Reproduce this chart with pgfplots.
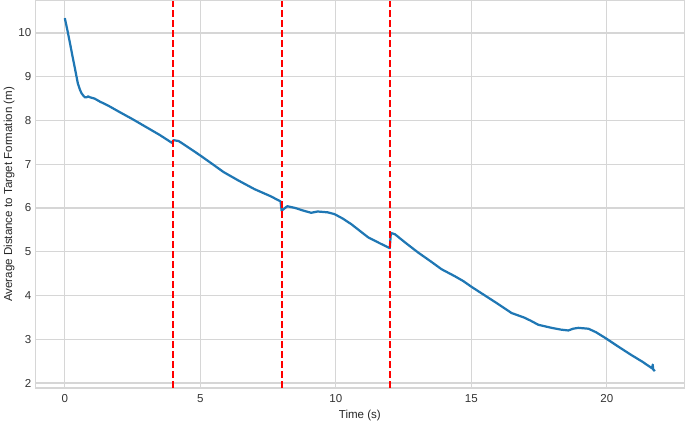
\documentclass[border=0pt]{standalone}
\usepackage{fontspec}
\setmainfont{Liberation Sans}
\usepackage{pgfplots}
\pgfplotsset{compat=1.18}
\definecolor{tabblue}{HTML}{1F77B4}
\definecolor{gridgray}{HTML}{D6D6D6}

\begin{document}
\fontsize{8.3}{10}\selectfont
\begin{tikzpicture}
\begin{axis}[
    scale only axis,
    width=6.45in,
    height=3.85in,
    xmin=-1.085, xmax=22.86,
    ymin=1.885, ymax=10.74,
    xtick={0,5,10,15,20},
    ytick={2,3,4,5,6,7,8,9,10},
    grid=major,
    major grid style={gridgray, line width=0.9pt},
    axis line style={gridgray, line width=0.9pt},
    tick style={draw=none},
    tick label style={font=\fontsize{8.3}{10}\selectfont, text=black!80},
    label style={font=\fontsize{8.3}{10}\selectfont, text=black!85},
    /pgf/number format/assume math mode=true,
    xlabel={Time (s)},
    ylabel={Average Distance to Target Formation (m)},
    xlabel style={yshift=0pt},
    ylabel style={yshift=-3pt},
    xticklabel style={yshift=-1.5pt},
    yticklabel style={xshift=0pt},
]
\addplot[tabblue, line width=1.6pt, line join=round] coordinates {
(0.00,10.34) (0.10,10.05) (0.19,9.77) (0.28,9.48) (0.37,9.20) (0.48,8.85)
(0.56,8.70) (0.62,8.62) (0.68,8.57) (0.74,8.53) (0.80,8.53) (0.86,8.55)
(0.93,8.53) (1.10,8.50) (1.30,8.43) (1.60,8.34) (2.00,8.20) (2.50,8.03)
(3.00,7.85) (3.50,7.67) (3.95,7.49) (4.01,7.55) (4.20,7.53) (4.40,7.45)
(5.00,7.20) (5.50,6.98) (5.86,6.82) (6.40,6.63) (7.00,6.43) (7.59,6.27)
(7.96,6.15) (8.00,5.94) (8.21,6.04) (8.50,6.00) (8.80,5.94) (9.09,5.89)
(9.33,5.92) (9.70,5.90) (9.95,5.86) (10.25,5.76) (10.57,5.63) (10.90,5.47)
(11.19,5.33) (11.60,5.20) (11.99,5.08) (12.03,5.43) (12.18,5.40) (12.60,5.19)
(13.04,4.98) (13.50,4.78) (13.90,4.60) (14.39,4.44) (14.70,4.33) (15.00,4.20)
(15.50,4.00) (16.00,3.80) (16.48,3.60) (16.97,3.49) (17.20,3.42) (17.47,3.33)
(17.96,3.26) (18.30,3.22) (18.58,3.20) (18.75,3.24) (18.95,3.26) (19.32,3.24)
(19.60,3.16) (19.94,3.03) (20.40,2.84) (20.90,2.64) (21.30,2.49) (21.68,2.33)
(21.69,2.42) (21.71,2.31) (21.77,2.27)
};
\addplot[red, line width=1.3pt, dash pattern=on 5pt off 2.2pt] coordinates {(4,1.885) (4,10.74)};
\addplot[red, line width=1.3pt, dash pattern=on 5pt off 2.2pt] coordinates {(8,1.885) (8,10.74)};
\addplot[red, line width=1.3pt, dash pattern=on 5pt off 2.2pt] coordinates {(12,1.885) (12,10.74)};
\end{axis}
\end{tikzpicture}
\end{document}
